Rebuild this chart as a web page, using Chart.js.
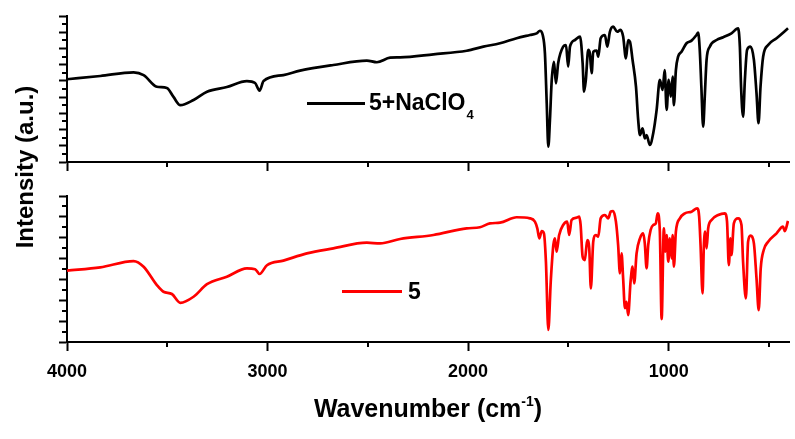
<!DOCTYPE html>
<html>
<head>
<meta charset="utf-8">
<script src="https://cdn.jsdelivr.net/npm/chart.js@4.4.1/dist/chart.umd.min.js"></script>
<style>
  html, body { margin: 0; padding: 0; background: #fff; }
  #wrap { position: relative; width: 795px; height: 439px; overflow: hidden; background: #fff;
          font-family: "Liberation Sans", Arial, sans-serif; font-weight: bold; color: #000; }
  canvas { position: absolute; left: 0; }
  .txt { position: absolute; white-space: nowrap; }
  .sw { position: absolute; height: 3px; }
</style>
</head>
<body>
<div id="wrap">
  <canvas id="topPanel" width="795" height="175" style="top:0"></canvas>
  <canvas id="bottomPanel" width="795" height="259" style="top:180px"></canvas>
  <div class="txt" id="ytitle" style="left:-75px;top:153px;width:200px;height:28px;line-height:28px;font-size:24px;text-align:center;transform:rotate(-90deg)">Intensity (a.u.)</div>
  <div class="txt" id="xtitle" style="left:228px;top:394px;width:400px;line-height:28px;font-size:25px;text-align:center">Wavenumber (cm<span style="font-size:14px;line-height:0;position:relative;top:-11px">-1</span>)</div>
  <div class="sw" id="sw1" style="left:307px;top:102px;width:58px"></div>
  <div class="txt" style="left:369px;top:90px;line-height:25px;font-size:23px">5+NaClO<span style="font-size:13px;line-height:0;position:relative;top:9px;margin-left:1px">4</span></div>
  <div class="sw" id="sw2" style="left:342px;top:290px;width:60px"></div>
  <div class="txt" style="left:408px;top:279px;line-height:25px;font-size:23px">5</div>
</div>
<script>
// top trace: 5 + NaClO4 (black)
const topWavenumbers = [4000, 3834, 3668, 3618, 3552, 3502, 3469, 3435, 3369, 3302, 3203, 3103, 3062, 3040, 3020,
  2921, 2838, 2672, 2505, 2455, 2389, 2339, 2173, 2007, 1924, 1841, 1758, 1692, 1658, 1642, 1628, 1617, 1608, 1600,
  1592, 1583, 1572, 1562, 1551, 1526, 1512, 1501, 1492, 1467, 1442, 1429, 1422, 1413, 1401, 1393, 1384, 1376, 1359,
  1351, 1339, 1318, 1306, 1293, 1277, 1257, 1240, 1227, 1213, 1202, 1193, 1180, 1163, 1152, 1143, 1130, 1119, 1110,
  1094, 1077, 1060, 1044, 1030, 1020, 1010, 1000, 989, 980, 974, 964, 953, 936, 911, 886, 861, 853, 845, 837, 828,
  820, 811, 795, 761, 728, 687, 654, 645, 639, 629, 620, 609, 592, 575, 562, 552, 542, 529, 504, 462, 405];
const topIntensity = [5.10, 5.30, 5.53, 5.36, 4.64, 4.56, 4.01, 3.50, 3.82, 4.33, 4.62, 4.99, 4.87, 4.40, 4.99,
  5.36, 5.63, 5.98, 6.25, 6.15, 6.43, 6.45, 6.64, 6.86, 7.11, 7.32, 7.63, 7.83, 7.93, 8.09, 7.83, 6.70, 3.62, 0.94,
  2.59, 5.06, 6.18, 4.85, 6.09, 7.11, 7.21, 5.88, 7.11, 7.52, 7.73, 6.09, 4.33, 5.06, 6.91, 6.70, 5.47, 6.80, 6.86,
  6.49, 7.63, 7.83, 7.11, 8.03, 8.34, 8.03, 8.14, 7.73, 6.39, 7.52, 7.42, 6.29, 4.64, 2.59, 1.66, 2.08, 1.46, 1.66,
  1.05, 1.77, 3.21, 5.06, 4.44, 5.67, 3.21, 5.06, 4.03, 5.26, 3.51, 5.67, 6.49, 6.80, 7.32, 7.48, 7.83, 7.97, 6.91, 4.64, 2.18,
  4.03, 6.29, 7.11, 7.52, 7.69, 7.93, 8.24, 7.11, 4.64, 2.79, 5.06, 6.91, 7.11, 6.29, 4.24, 2.39, 4.64, 6.49, 7.21, 7.63, 8.24];

// bottom trace: 5 (red)
const bottomWavenumbers = [4000, 3834, 3668, 3618, 3552, 3519, 3477, 3435, 3369, 3302, 3203, 3103, 3062, 3040, 3003,
  2921, 2804, 2672, 2505, 2439, 2339, 2173, 2007, 1941, 1891, 1841, 1758, 1692, 1667, 1655, 1645, 1633, 1622, 1612,
  1600, 1588, 1575, 1567, 1559, 1546, 1526, 1506, 1496, 1484, 1459, 1446, 1439, 1429, 1418, 1406, 1396, 1388, 1376,
  1363, 1351, 1339, 1318, 1301, 1289, 1277, 1263, 1252, 1243, 1235, 1227, 1218, 1210, 1202, 1190, 1180, 1172, 1160,
  1143, 1127, 1119, 1110, 1102, 1090, 1077, 1064, 1055, 1044, 1035, 1024, 1017, 1010, 1002, 994, 985, 980, 974, 964,
  944, 919, 886, 858, 848, 841, 831, 825, 818, 811, 803, 786, 753, 720, 709, 700, 692, 687, 675, 654, 637, 629, 615,
  604, 592, 575, 562, 551, 541, 526, 504, 462, 430, 421, 405];
const bottomIntensity = [3.42, 3.58, 3.88, 3.61, 2.73, 2.41, 2.30, 1.88, 2.17, 2.77, 3.13, 3.53, 3.49, 3.26, 3.68,
  3.90, 4.25, 4.49, 4.76, 4.73, 4.94, 5.13, 5.45, 5.50, 5.69, 5.72, 5.98, 5.93, 5.77, 5.45, 4.97, 5.32, 5.21, 3.85,
  0.58, 2.89, 4.65, 4.97, 4.33, 5.13, 5.61, 5.77, 5.13, 5.85, 5.96, 6.01, 5.61, 4.09, 3.93, 4.89, 4.49, 2.57, 4.81,
  5.13, 5.05, 5.93, 6.09, 5.93, 6.25, 6.28, 5.77, 4.65, 3.29, 4.25, 3.05, 1.62, 1.93, 1.29, 2.89, 3.61, 2.81, 4.25,
  4.97, 5.21, 4.73, 3.53, 4.65, 5.37, 5.61, 5.69, 6.17, 5.29, 1.10, 5.45, 4.33, 5.13, 3.85, 4.97, 4.01, 5.13, 3.61, 5.29,
  5.93, 6.17, 6.25, 6.41, 6.01, 4.65, 2.33, 4.49, 5.29, 4.49, 5.45, 5.85, 6.09, 6.17, 5.77, 3.69, 4.97, 4.17, 5.69, 5.93, 5.61, 3.85, 2.09,
  4.81, 5.10, 4.73, 3.05, 1.53, 3.53, 4.41, 4.81, 5.21, 5.53, 5.32, 5.80];

const xTickValues = [4000, 3500, 3000, 2500, 2000, 1500, 1000, 500];
const xTickLabels = [4000, 3000, 2000, 1000];
const seriesNames = ['5+NaClO4', '5'];
const seriesColors = ['#000000', '#ff0000'];

const FONT = '"Liberation Sans", Arial, sans-serif';

// short ticks between the long ones
const minorTicks = {
  id: 'minorTicks',
  afterDraw(chart) {
    const ctx = chart.ctx;
    ctx.save();
    ctx.strokeStyle = '#000';
    ctx.lineWidth = 2;
    const sx = chart.scales.x, sy = chart.scales.y;
    sx.ticks.forEach(t => {
      if (xTickLabels.includes(t.value)) return;
      const p = Math.round(sx.getPixelForValue(t.value));
      ctx.beginPath(); ctx.moveTo(p, sx.top); ctx.lineTo(p, sx.top + 5); ctx.stroke();
    });
    sy.ticks.forEach(t => {
      if (Number.isInteger(t.value)) return;
      const p = Math.round(sy.getPixelForValue(t.value));
      ctx.beginPath(); ctx.moveTo(sy.right - 5, p); ctx.lineTo(sy.right, p); ctx.stroke();
    });
    ctx.restore();
  }
};

function makePanel(id, wn, vals, name, color, yMax, showLabels, xHeight) {
  return new Chart(document.getElementById(id), {
    type: 'line',
    data: {
      datasets: [{
        label: name,
        data: wn.map((w, i) => ({ x: w, y: vals[i] })),
        borderColor: color,
        borderWidth: 2.7,
        pointRadius: 0,
        cubicInterpolationMode: 'monotone',
        fill: false
      }]
    },
    options: {
      responsive: false,
      animation: false,
      devicePixelRatio: 1,
      layout: { padding: { top: 16, right: 6, left: 0, bottom: 0 } },
      plugins: { legend: { display: false }, tooltip: { enabled: false } },
      scales: {
        x: {
          type: 'linear',
          reverse: true,
          min: 400,
          max: 4000,
          afterBuildTicks: s => { s.ticks = xTickValues.map(v => ({ value: v })); },
          ticks: {
            autoSkip: false,
            maxRotation: 0,
            display: showLabels,
            padding: 10,
            color: '#000',
            font: { family: FONT, size: 18, weight: 'bold' },
            callback: v => xTickLabels.includes(v) ? String(v) : ''
          },
          grid: {
            drawOnChartArea: false,
            tickLength: 9,
            tickWidth: 2,
            tickColor: c => (c.tick && xTickLabels.includes(c.tick.value)) ? '#000' : 'rgba(0,0,0,0)'
          },
          border: { color: '#000', width: 2 },
          afterFit: s => { s.height = xHeight; }
        },
        y: {
          min: 0,
          max: yMax,
          ticks: { stepSize: 0.5, display: false },
          grid: {
            drawOnChartArea: false,
            tickLength: 8,
            tickWidth: 2,
            tickColor: c => (c.tick && Number.isInteger(c.tick.value)) ? '#000' : 'rgba(0,0,0,0)'
          },
          border: { color: '#000', width: 2 },
          afterFit: s => { s.width = 67; }
        }
      }
    },
    plugins: [minorTicks]
  });
}

makePanel('topPanel', topWavenumbers, topIntensity, seriesNames[0], seriesColors[0], 9, false, 13);
makePanel('bottomPanel', bottomWavenumbers, bottomIntensity, seriesNames[1], seriesColors[1], 7, true, 97);

document.getElementById('sw1').style.background = seriesColors[0];
document.getElementById('sw2').style.background = seriesColors[1];
</script>
</body>
</html>
